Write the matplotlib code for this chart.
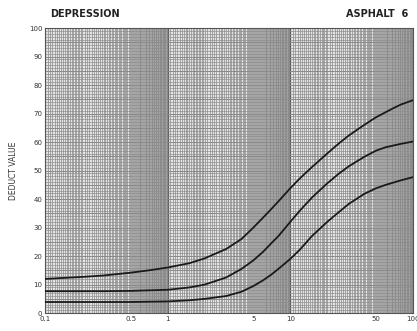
import matplotlib

matplotlib.use("Agg")
import matplotlib.pyplot as plt
import numpy as np

# deduct curves (density %, deduct value)
TOP_X = [0.1, 0.2, 0.3, 0.5, 0.7, 1, 1.5, 2, 3, 4, 5, 6, 7, 8, 10, 12, 15, 20, 25, 30, 40, 50, 60, 70, 80, 100]
TOP_Y = [12, 12.7, 13.2, 14.2, 15, 16, 17.5, 19.2, 22.5, 26, 30, 33.5, 36.5, 39.2, 43.8, 47.3, 51.2, 56, 59.6, 62.3, 66, 68.7, 70.5, 72, 73.2, 74.7]
MID_X = [0.1, 0.3, 0.5, 1, 1.5, 2, 3, 4, 5, 6, 7, 8, 10, 12, 15, 20, 25, 30, 40, 50, 60, 80, 100]
MID_Y = [7.7, 7.7, 7.8, 8.2, 9, 10, 12.5, 15.5, 18.5, 21.5, 24.5, 27, 32, 36, 40.5, 45.5, 49, 51.5, 54.8, 57, 58.2, 59.4, 60.2]
LOW_X = [0.1, 0.5, 1, 1.5, 2, 3, 4, 5, 6, 7, 8, 10, 12, 15, 20, 25, 30, 40, 50, 60, 80, 100]
LOW_Y = [3.9, 3.9, 4.1, 4.5, 5, 6, 7.5, 9.5, 11.5, 13.5, 15.5, 19, 22.3, 27, 32, 35.5, 38.3, 41.8, 43.8, 45, 46.6, 47.7]

X_TICKS = [0.1, 0.5, 1, 5, 10, 50, 100]
X_LABELS = ["0.1", "0.5", "1", "5", "10", "50", "100"]
Y_TICKS = list(range(0, 101, 10))

fig = plt.figure(figsize=(4.17, 3.31), dpi=100)
ax = fig.add_axes([0.108, 0.054, 0.882, 0.861])
ax.set_xscale("log")
ax.set_xlim(0.1, 100)
ax.set_ylim(0, 100)
ax.set_facecolor("#e4e4e4")

# graph-paper grid: linear subdivisions inside each log decade
for d in (0.1, 1, 10):
    xs = np.concatenate([np.arange(1, 2, 0.05), np.arange(2, 5, 0.1), np.arange(5, 10, 0.1)]) * d
    for x in xs:
        ax.axvline(x, color="#808080", lw=0.45, zorder=1)
    ax.axvline(d, color="#5a5a5a", lw=0.8, zorder=1)
for y in range(0, 101):
    ax.axhline(y, color="#8a8a8a", lw=0.45 if y % 5 else 0.7, zorder=1)

for xs, ys in ((TOP_X, TOP_Y), (MID_X, MID_Y), (LOW_X, LOW_Y)):
    ax.plot(xs, ys, color="#1a1a1a", lw=1.3, zorder=3, solid_joinstyle="round")

for s in ax.spines.values():
    s.set_color("#555555")
    s.set_linewidth(0.8)
ax.set_xticks(X_TICKS, X_LABELS)
ax.xaxis.set_minor_locator(matplotlib.ticker.NullLocator())
ax.set_yticks(Y_TICKS)
ax.tick_params(length=0, labelsize=5, colors="#333333", pad=2)
ax.set_ylabel("DEDUCT VALUE", fontsize=5.5, color="#333333", labelpad=8)

fig.text(0.12, 0.948, "DEPRESSION", fontsize=7, fontweight="bold", color="#222222")
fig.text(0.98, 0.948, "ASPHALT  6", fontsize=7, fontweight="bold", color="#222222", ha="right")

fig.savefig("out.png", dpi=100)
